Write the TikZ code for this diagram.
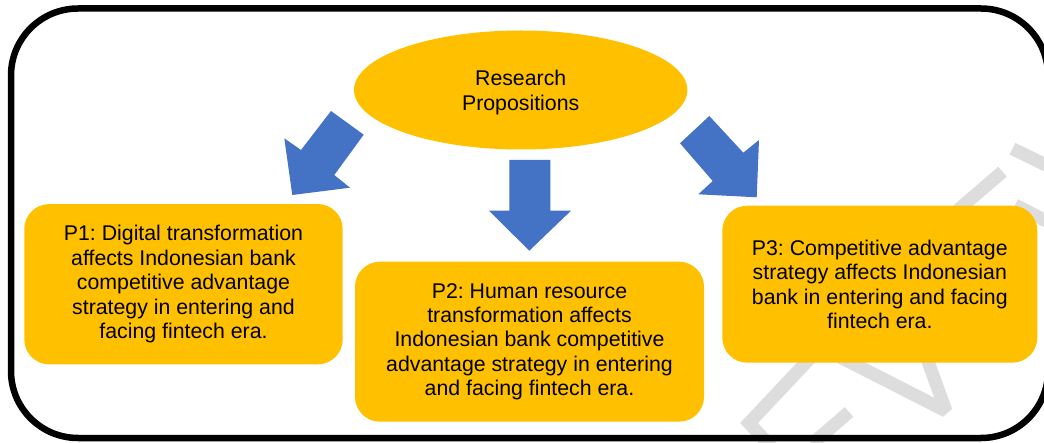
\documentclass[tikz,border=0pt]{standalone}
\usepackage{fontspec}
\setmainfont{Liberation Sans}
\usetikzlibrary{shapes.geometric}
\definecolor{propyellow}{HTML}{FFC000}
\definecolor{arrowblue}{HTML}{4472C4}
\definecolor{markgray}{HTML}{DDDDDD}
\frenchspacing
\begin{document}
\begin{tikzpicture}[x=1pt,y=-1pt,
  txt/.style={font=\fontsize{21.3}{24.4}\selectfont\frenchspacing, align=center, text=black},
  propbox/.style={txt, fill=propyellow, rounded corners=25pt, inner sep=0pt},
  blockarrow/.style={fill=arrowblue},
  wmstroke/.style={draw=markgray, line width=13pt, line cap=butt, line join=miter}
]
\path[use as bounding box] (0,0) rectangle (1044,443);
\clip (0,0) rectangle (1044,443);

% faint background lettering
\draw[wmstroke] (815,353) -- (749,423) -- (775,451);
\draw[wmstroke] (849,412) -- (812,444);
\draw[wmstroke, line join=bevel] (840,357) -- (946,411) -- (926,356);
\draw[wmstroke] (1012.5,148.7) -- (1050,167);
\draw[wmstroke] (1002.5,171.7) -- (958,210);
\draw[wmstroke] (1015,205) -- (1050,223);

% outer frame
\draw[line width=6.5pt, rounded corners=67pt] (11,8.5) rectangle (1048,438);

% central ellipse
\node[ellipse, fill=propyellow, minimum width=333.4pt, minimum height=119pt, inner sep=0pt] (rp) at (520.7,90) {};
\node[txt] (rptext) at (520.7,92.5) {Research\\Propositions};

% block arrows
\fill[blockarrow] (331,111) -- (363.7,134.7) -- (334.3,175) -- (350,187.7) -- (292.3,195) -- (284.3,138.3) -- (301,150) -- cycle;
\fill[blockarrow] (509.3,160) -- (550.3,160) -- (550.3,210.7) -- (571,210.7) -- (529.3,250.7) -- (489,210.7) -- (509.3,210.7) -- cycle;
\fill[blockarrow] (709.3,116) -- (743.3,152.7) -- (759,140) -- (756.7,197.3) -- (698.3,194.3) -- (712.7,181) -- (680,143.3) -- cycle;

% propositions
\node[propbox, minimum width=318.4pt, minimum height=160.3pt] (p1) at (183.5,284.2)
  {P1: Digital transformation\\affects Indonesian bank\\competitive advantage\\strategy in entering and\\facing fintech era.};
\node[propbox, minimum width=349pt, minimum height=160pt] (p2) at (529.5,341.7)
  {P2: Human resource\\transformation affects\\Indonesian bank competitive\\advantage strategy in entering\\and facing fintech era.};
\node[propbox, minimum width=315pt, minimum height=157pt] (p3) at (879.8,284.2)
  {P3: Competitive advantage\\strategy affects Indonesian\\bank in entering and facing\\fintech era.};
\end{tikzpicture}
\end{document}
